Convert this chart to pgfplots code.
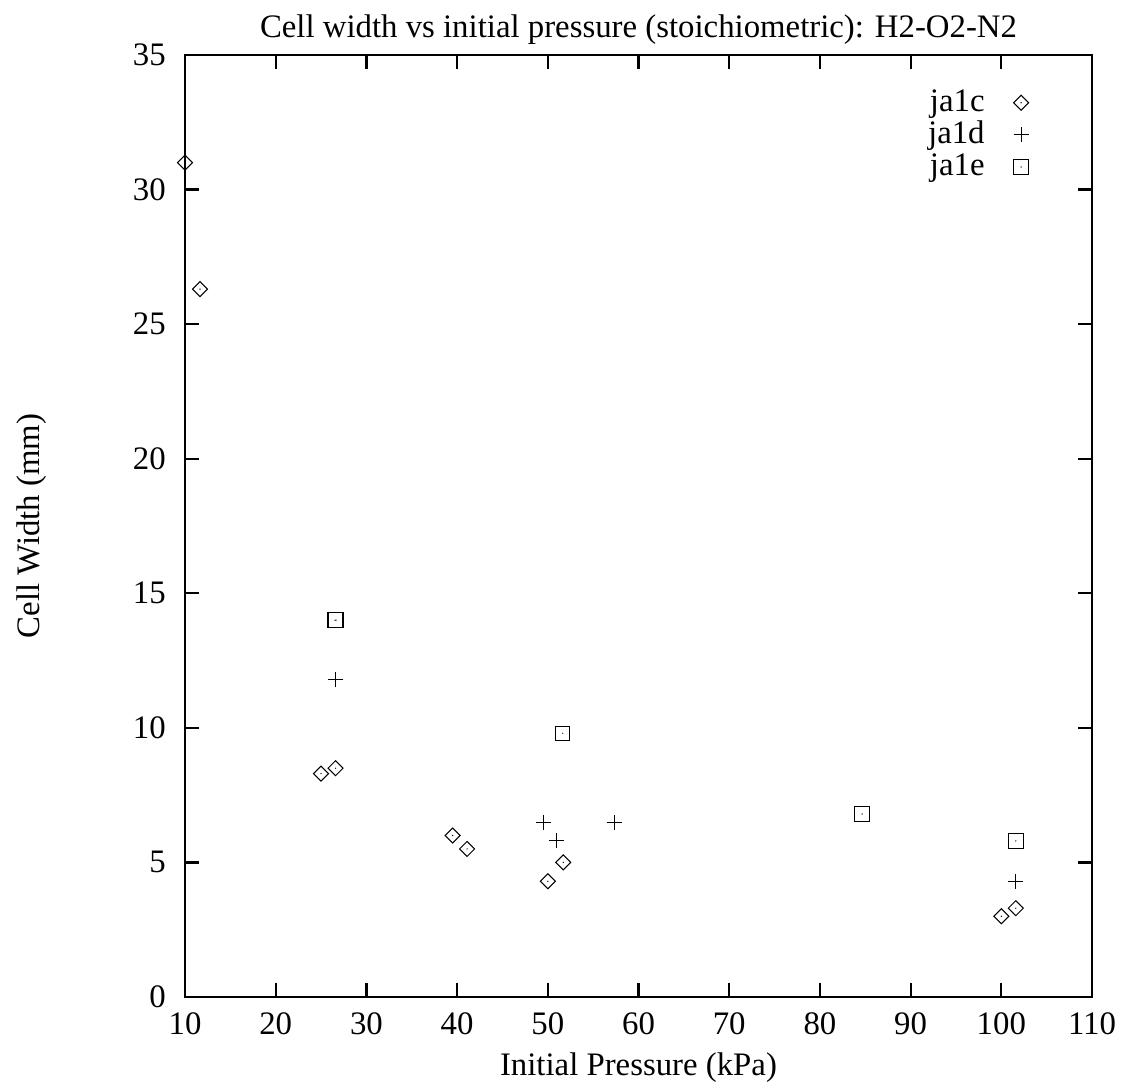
\documentclass[border=0pt]{standalone}
\usepackage{fontspec}
\setmainfont{Liberation Serif}
\usepackage{pgfplots}
\pgfplotsset{compat=1.18}
\pgfdeclareplotmark{ddiamond}{%
  \pgfpathmoveto{\pgfqpoint{0pt}{\pgfplotmarksize}}%
  \pgfpathlineto{\pgfqpoint{\pgfplotmarksize}{0pt}}%
  \pgfpathlineto{\pgfqpoint{0pt}{-\pgfplotmarksize}}%
  \pgfpathlineto{\pgfqpoint{-\pgfplotmarksize}{0pt}}%
  \pgfpathclose\pgfusepathqstroke
  \pgfpathcircle{\pgfpointorigin}{0.35pt}\pgfusepathqfill}
\pgfdeclareplotmark{dsquare}{%
  \pgfpathrectangle{\pgfqpoint{-\pgfplotmarksize}{-\pgfplotmarksize}}{\pgfqpoint{2\pgfplotmarksize}{2\pgfplotmarksize}}%
  \pgfusepathqstroke
  \pgfpathcircle{\pgfpointorigin}{0.35pt}\pgfusepathqfill}
\begin{document}
\begin{tikzpicture}
\fontsize{16.4}{19}\selectfont
\begin{axis}[
  scale only axis,
  width=453.5pt, height=471pt,
  xmin=10, xmax=110, ymin=0, ymax=35,
  xtick={10,20,...,110}, ytick={0,5,...,35},
  tick align=inside, major tick length=7pt,
  xtick pos=both, ytick pos=both,
  axis line style={line width=1.1pt},
  every tick/.style={line width=1.1pt, black},
  /pgf/number format/assume math mode=true,
  tick label style={font=\fontsize{16.4}{19}\selectfont},
  label style={font=\fontsize{16.4}{19}\selectfont},
  title style={font=\fontsize{16.4}{19}\selectfont, yshift=-6.5pt},
  title={Cell width vs initial pressure (stoichiometric): H2-O2-N2},
  xlabel={Initial Pressure (kPa)},
  ylabel={Cell Width (mm)},
  xlabel style={yshift=2pt},
  ylabel style={yshift=32pt},
  xticklabel style={yshift=-2pt},
  yticklabel style={xshift=-4pt},
  legend style={draw=none, fill=none, at={(1,1)}, anchor=north east,
    xshift=-28.5pt, yshift=-13pt, font=\fontsize{16.4}{19}\selectfont,
    row sep=-1.5pt, column sep=12.5pt},
  legend cell align=right,
  legend plot pos=right,
]
\addplot[only marks, mark=ddiamond, mark size=3.75pt, line width=0.5pt] coordinates {
(10,31) (11.65,26.3) (25,8.3) (26.6,8.5) (39.5,6.0) (41.1,5.5)
(50,4.3) (51.7,5.0) (100,3.0) (101.6,3.3)};
\addlegendentry{ja1c}
\addplot[only marks, mark=+, mark size=3.75pt, line width=0.5pt] coordinates {
(26.6,11.8) (49.5,6.5) (51,5.8) (57.3,6.5) (101.6,4.3)};
\addlegendentry{ja1d}
\addplot[only marks, mark=dsquare, mark size=3.6pt, line width=0.5pt] coordinates {
(26.55,14.0) (26.65,14.0) (51.65,9.8) (84.65,6.8) (101.6,5.8)};
\addlegendentry{ja1e}
\end{axis}
\pgfresetboundingbox
\path ([shift={(-92.5pt,-42.5pt)}]current axis.south west) rectangle ([shift={(15pt,27.5pt)}]current axis.north east);
\end{tikzpicture}
\end{document}
